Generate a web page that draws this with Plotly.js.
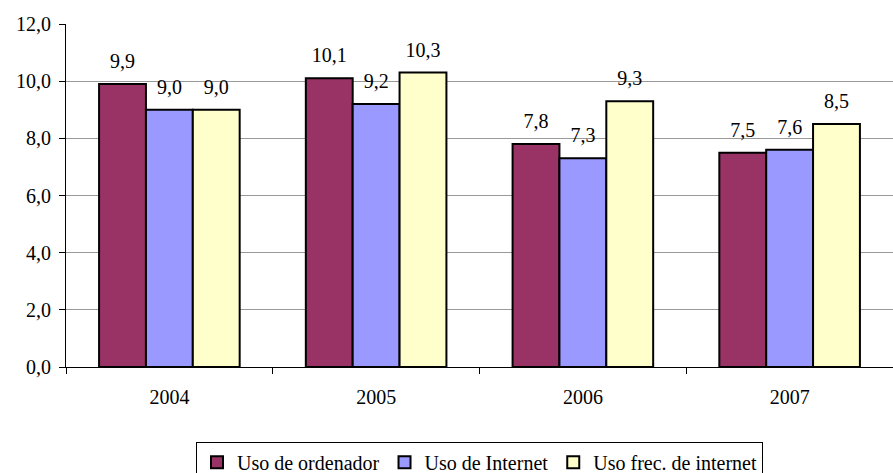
<!DOCTYPE html>
<html><head><meta charset="utf-8">
<script src="https://cdn.plot.ly/plotly-3.0.1.min.js"></script>
<style>html,body{margin:0;padding:0;background:#fff}</style>
</head><body>
<div id="chart" style="width:893px;height:473px"></div>
<script>
const categories = ["2004", "2005", "2006", "2007"];
const seriesNames = ["Uso de ordenador", "Uso de Internet", "Uso frec. de internet"];
const usoOrdenador = [9.9, 10.1, 7.8, 7.5];
const usoInternet = [9.0, 9.2, 7.3, 7.6];
const usoFrecInternet = [9.0, 10.3, 9.3, 8.5];
const colors = ["#993366", "#9999FF", "#FFFFCC"];
const yTicks = [0, 2, 4, 6, 8, 10, 12];

const F = () => ({family: "Liberation Serif", size: 20, color: "#000"});
const series = [usoOrdenador, usoInternet, usoFrecInternet];
const bars = series.map((vals, i) => ({
  type: "bar",
  name: seriesNames[i],
  x: categories,
  y: vals,
  offsetgroup: "g" + i,
  marker: {color: colors[i], line: {color: "#000", width: 2}},
  hoverinfo: "skip"
}));
const labels = series.map((vals, i) => ({
  type: "scatter",
  mode: "markers+text",
  x: categories,
  y: vals,
  offsetgroup: "g" + i,
  texttemplate: "%{y:.1f}",
  textposition: "top center",
  textfont: F(),
  marker: {size: 16, opacity: 0},
  cliponaxis: false,
  showlegend: false,
  hoverinfo: "skip"
}));

const layout = {
  width: 893, height: 473,
  margin: {l: 66, r: 0, t: 24, b: 106},
  separators: ",.",
  font: F(),
  barmode: "group",
  bargap: 0.32,
  bargroupgap: 0,
  scattermode: "group",
  scattergap: 0.32,
  showlegend: true,
  paper_bgcolor: "#fff",
  plot_bgcolor: "#fff",
  xaxis: {
    type: "category",
    showline: true, linecolor: "#000", linewidth: 1,
    ticks: "outside", tickson: "boundaries", ticklen: 6, tickcolor: "#000",
    ticklabelstandoff: 12,
    tickfont: F(),
    showgrid: false, zeroline: false
  },
  yaxis: {
    range: [0, 12],
    tickvals: yTicks,
    tickformat: ".1f",
    showline: true, linecolor: "#000", linewidth: 1,
    ticks: "outside", ticklen: 6, tickcolor: "#000",
    showgrid: true, gridcolor: "#999", gridwidth: 1,
    zeroline: false,
    tickfont: F(),
    ticklabelstandoff: 4
  },
  legend: {
    orientation: "h", x: 0.5, xanchor: "center",
    yref: "container", y: 0.066, yanchor: "top",
    bordercolor: "#000", borderwidth: 1,
    font: F(),
    itemwidth: 30, tracegroupgap: 0
  }
};
Plotly.newPlot("chart", bars.concat(labels), layout, {displayModeBar: false, staticPlot: true});
</script>
</body></html>
